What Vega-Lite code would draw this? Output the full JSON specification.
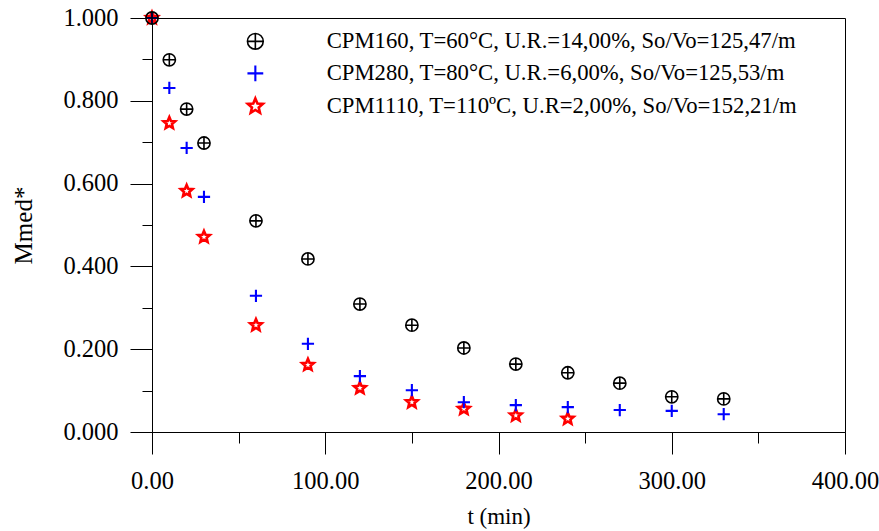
{
  "$schema": "https://vega.github.io/schema/vega-lite/v6.json",
  "width": 693,
  "height": 414,
  "autosize": {"type": "none"},
  "padding": {"left": 152, "top": 18, "right": 34, "bottom": 99},
  "background": "white",
  "view": {"stroke": "black", "strokeWidth": 1},
  "config": {
    "font": "Liberation Serif",
    "axis": {"grid": false, "domainColor": "black", "tickColor": "black", "labelColor": "black", "titleColor": "black", "labelFont": "Liberation Serif", "titleFont": "Liberation Serif", "labelFontSize": 24.5, "titleFontSize": 23, "titleFontWeight": "normal"},
    "legend": {"labelFont": "Liberation Serif"}
  },
  "datasets": {
    "pts": [
      {"t": 0, "M": 1.0, "s": "CPM1110, T=110ºC, U.R=2,00%,  So/Vo=152,21/m"},
      {"t": 10, "M": 0.746, "s": "CPM1110, T=110ºC, U.R=2,00%,  So/Vo=152,21/m"},
      {"t": 20, "M": 0.582, "s": "CPM1110, T=110ºC, U.R=2,00%,  So/Vo=152,21/m"},
      {"t": 30, "M": 0.471, "s": "CPM1110, T=110ºC, U.R=2,00%,  So/Vo=152,21/m"},
      {"t": 60, "M": 0.258, "s": "CPM1110, T=110ºC, U.R=2,00%,  So/Vo=152,21/m"},
      {"t": 90, "M": 0.162, "s": "CPM1110, T=110ºC, U.R=2,00%,  So/Vo=152,21/m"},
      {"t": 120, "M": 0.106, "s": "CPM1110, T=110ºC, U.R=2,00%,  So/Vo=152,21/m"},
      {"t": 150, "M": 0.072, "s": "CPM1110, T=110ºC, U.R=2,00%,  So/Vo=152,21/m"},
      {"t": 180, "M": 0.056, "s": "CPM1110, T=110ºC, U.R=2,00%,  So/Vo=152,21/m"},
      {"t": 210, "M": 0.040, "s": "CPM1110, T=110ºC, U.R=2,00%,  So/Vo=152,21/m"},
      {"t": 240, "M": 0.032, "s": "CPM1110, T=110ºC, U.R=2,00%,  So/Vo=152,21/m"},
      {"t": 0, "M": 1.0, "s": "CPM280, T=80°C, U.R.=6,00%, So/Vo=125,53/m"},
      {"t": 10, "M": 0.831, "s": "CPM280, T=80°C, U.R.=6,00%, So/Vo=125,53/m"},
      {"t": 20, "M": 0.686, "s": "CPM280, T=80°C, U.R.=6,00%, So/Vo=125,53/m"},
      {"t": 30, "M": 0.568, "s": "CPM280, T=80°C, U.R.=6,00%, So/Vo=125,53/m"},
      {"t": 60, "M": 0.329, "s": "CPM280, T=80°C, U.R.=6,00%, So/Vo=125,53/m"},
      {"t": 90, "M": 0.213, "s": "CPM280, T=80°C, U.R.=6,00%, So/Vo=125,53/m"},
      {"t": 120, "M": 0.135, "s": "CPM280, T=80°C, U.R.=6,00%, So/Vo=125,53/m"},
      {"t": 150, "M": 0.101, "s": "CPM280, T=80°C, U.R.=6,00%, So/Vo=125,53/m"},
      {"t": 180, "M": 0.072, "s": "CPM280, T=80°C, U.R.=6,00%, So/Vo=125,53/m"},
      {"t": 210, "M": 0.065, "s": "CPM280, T=80°C, U.R.=6,00%, So/Vo=125,53/m"},
      {"t": 240, "M": 0.060, "s": "CPM280, T=80°C, U.R.=6,00%, So/Vo=125,53/m"},
      {"t": 270, "M": 0.053, "s": "CPM280, T=80°C, U.R.=6,00%, So/Vo=125,53/m"},
      {"t": 300, "M": 0.051, "s": "CPM280, T=80°C, U.R.=6,00%, So/Vo=125,53/m"},
      {"t": 330, "M": 0.043, "s": "CPM280, T=80°C, U.R.=6,00%, So/Vo=125,53/m"},
      {"t": 0, "M": 1.0, "s": "CPM160, T=60°C, U.R.=14,00%, So/Vo=125,47/m"},
      {"t": 10, "M": 0.899, "s": "CPM160, T=60°C, U.R.=14,00%, So/Vo=125,47/m"},
      {"t": 20, "M": 0.780, "s": "CPM160, T=60°C, U.R.=14,00%, So/Vo=125,47/m"},
      {"t": 30, "M": 0.698, "s": "CPM160, T=60°C, U.R.=14,00%, So/Vo=125,47/m"},
      {"t": 60, "M": 0.510, "s": "CPM160, T=60°C, U.R.=14,00%, So/Vo=125,47/m"},
      {"t": 90, "M": 0.418, "s": "CPM160, T=60°C, U.R.=14,00%, So/Vo=125,47/m"},
      {"t": 120, "M": 0.309, "s": "CPM160, T=60°C, U.R.=14,00%, So/Vo=125,47/m"},
      {"t": 150, "M": 0.258, "s": "CPM160, T=60°C, U.R.=14,00%, So/Vo=125,47/m"},
      {"t": 180, "M": 0.203, "s": "CPM160, T=60°C, U.R.=14,00%, So/Vo=125,47/m"},
      {"t": 210, "M": 0.164, "s": "CPM160, T=60°C, U.R.=14,00%, So/Vo=125,47/m"},
      {"t": 240, "M": 0.143, "s": "CPM160, T=60°C, U.R.=14,00%, So/Vo=125,47/m"},
      {"t": 270, "M": 0.118, "s": "CPM160, T=60°C, U.R.=14,00%, So/Vo=125,47/m"},
      {"t": 300, "M": 0.085, "s": "CPM160, T=60°C, U.R.=14,00%, So/Vo=125,47/m"},
      {"t": 330, "M": 0.080, "s": "CPM160, T=60°C, U.R.=14,00%, So/Vo=125,47/m"}
    ]
  },
  "data": {"name": "pts"},
  "mark": {"type": "point", "filled": false, "size": 150, "clip": false, "opacity": 1},
  "encoding": {
    "x": {
      "field": "t", "type": "quantitative",
      "scale": {"domain": [0, 400], "nice": false, "zero": false},
      "axis": {
        "title": "t (min)",
        "labelFont": "Liberation Serif",
        "titleFont": "Liberation Serif",
        "values": [0, 50, 100, 150, 200, 250, 300, 350, 400],
        "labelExpr": "datum.value % 100 === 0 ? format(datum.value, '.2f') : ''",
        "tickSize": {"expr": "datum.value % 100 === 0 ? 22 : 11"},
        "labelPadding": 15,
        "titlePadding": 13,
        "labelFlush": false
      }
    },
    "y": {
      "field": "M", "type": "quantitative",
      "scale": {"domain": [0, 1], "nice": false},
      "axis": {
        "title": "Mmed*",
        "titleFontSize": 25,
        "labelFont": "Liberation Serif",
        "titleFont": "Liberation Serif",
        "values": [0, 0.1, 0.2, 0.3, 0.4, 0.5, 0.6, 0.7, 0.8, 0.9, 1.0],
        "labelExpr": "round(datum.value * 10) % 2 === 0 ? format(datum.value, '.3f') : ''",
        "tickSize": {"expr": "round(datum.value * 10) % 2 === 0 ? 22 : 10"},
        "labelPadding": 12,
        "titlePadding": 26,
        "labelFlush": false
      }
    },
    "color": {
      "field": "s", "type": "nominal",
      "scale": {
        "domain": ["CPM160, T=60°C, U.R.=14,00%, So/Vo=125,47/m", "CPM280, T=80°C, U.R.=6,00%, So/Vo=125,53/m", "CPM1110, T=110ºC, U.R=2,00%,  So/Vo=152,21/m"],
        "range": ["black", "blue", "red"]
      },
      "legend": {
        "title": null,
        "orient": "none",
        "legendX": 92,
        "legendY": 12,
        "labelFont": "Liberation Serif",
        "labelFontSize": 22.7,
        "labelColor": "black",
        "labelLimit": 700,
        "labelOffset": 60,
        "rowPadding": 7,
        "symbolSize": 250,
        "symbolStrokeWidth": 2.2,
        "symbolFillColor": "transparent"
      }
    },
    "shape": {
      "field": "s", "type": "nominal",
      "scale": {
        "domain": ["CPM160, T=60°C, U.R.=14,00%, So/Vo=125,47/m", "CPM280, T=80°C, U.R.=6,00%, So/Vo=125,53/m", "CPM1110, T=110ºC, U.R=2,00%,  So/Vo=152,21/m"],
        "range": ["M-1,0A1,1,0,1,1,1,0A1,1,0,1,1,-1,0ZM-1,0L1,0M0,-1L0,1", "M-1,0L1,0M0,-1L0,1", "M0,-1L0.265,-0.364L0.951,-0.309L0.428,0.139L0.588,0.809L0,0.45L-0.588,0.809L-0.428,0.139L-0.951,-0.309L-0.265,-0.364Z"]
      }
    },
    "strokeWidth": {
      "field": "s", "type": "nominal",
      "scale": {
        "domain": ["CPM160, T=60°C, U.R.=14,00%, So/Vo=125,47/m", "CPM280, T=80°C, U.R.=6,00%, So/Vo=125,53/m", "CPM1110, T=110ºC, U.R=2,00%,  So/Vo=152,21/m"],
        "range": [1.6, 2.6, 3]
      },
      "legend": null
    }
  }
}
